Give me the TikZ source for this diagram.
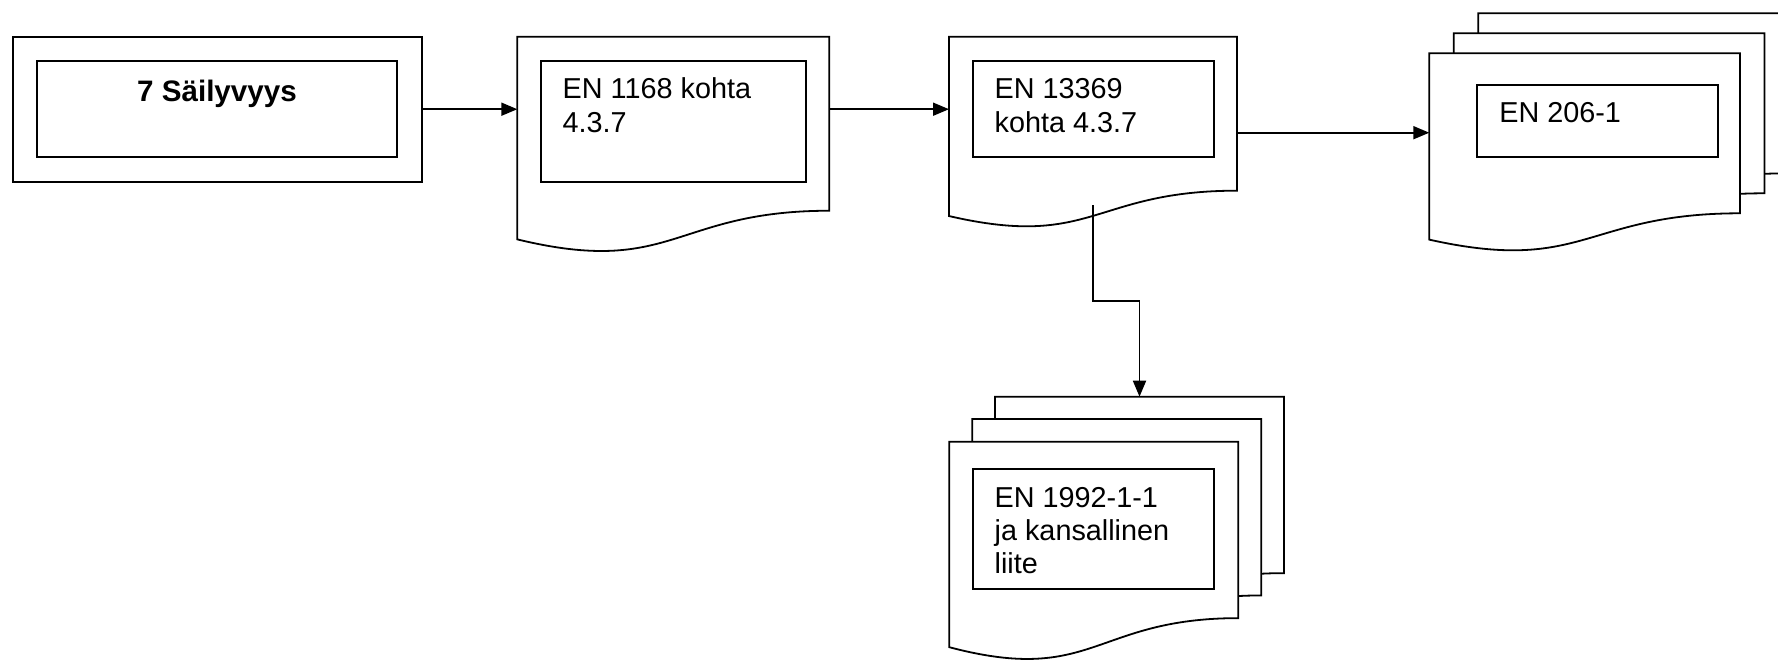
\documentclass[tikz,border=0pt]{standalone}
\usepackage{fontspec}
\setmainfont{Liberation Sans}
\usepackage{tikz}
\usetikzlibrary{positioning}
\usetikzlibrary{calc,arrows.meta}

% one sheet of the document shape, drawn on the frame of a node
\newcommand{\docpage}[1]{%
  \draw[fill=white] (#1.north west) -- (#1.north east)
    -- ($(#1.north east)!0.802!(#1.south east)$)
    .. controls ($(#1.north)!0.802!(#1.south)$) and ($(#1.north)!1.108!(#1.south)$)
    .. ($(#1.north west)!0.934!(#1.south west)$) -- cycle;}
\newcommand{\doctext}[3]{\parbox[c][#2][t]{#1}{\raggedright\rule{0pt}{18.9pt}#3}}

\begin{document}
\begin{tikzpicture}[x=0.5pt, y=-0.5pt, line width=0.9pt,
every node/.style = {inner sep=0pt, outer sep=0pt, anchor=north west},
  page/.style 2 args = {minimum width=#1, minimum height=#2},
  textbox/.style = {draw, fill=white, inner xsep=11pt, font=\fontsize{14.4}{16.7}\selectfont},
  arr/.style = {-{Triangle[length=8pt, width=6.5pt]}}
]
\useasboundingbox (0,0) rectangle (1778,659);

% title
\node[draw, page={204.5pt}{72.5pt}] (frame) at (12.7,36.7) {};
\node[textbox, inner xsep=0pt, font=\fontsize{14.8}{16.7}\selectfont\bfseries] (title) at (36.7,61)
    {\parbox[c][47.85pt][t]{180.3pt}{\centering\rule{0pt}{20.3pt}7 Säilyvyys}};

% EN 1168
\node[page={156pt}{108.5pt}] (d2) at (517.3,36.7) {};
\docpage{d2}
\node[textbox] (t2) at (540.7,61) {\doctext{110.5pt}{60.35pt}{EN 1168 kohta\\4.3.7}};

% EN 13369
\node[page={144pt}{96pt}] (d3) at (949,36.7) {};
\docpage{d3}
\node[textbox] (t3) at (972.7,61) {\doctext{98.65pt}{47.85pt}{EN 13369\\kohta 4.3.7}};

% EN 206-1, three sheets
\node[page={155.35pt}{99.75pt}] (d4c) at (1478.3,13.3) {};
\node[page={155.35pt}{99.75pt}] (d4b) at (1453.8,33.3) {};
\node[page={155.35pt}{99.75pt}] (d4a) at (1429.3,53.3) {};
\docpage{d4c}
\docpage{d4b}
\docpage{d4a}
\node[textbox] (t4) at (1477.3,85) {\doctext{98.2pt}{35.85pt}{EN 206-1}};

% EN 1992-1-1, three sheets
\node[page={144.5pt}{110pt}] (d5c) at (995,396.7) {};
\node[page={144.5pt}{110pt}] (d5b) at (972.3,419) {};
\node[page={144.5pt}{110pt}] (d5a) at (949.3,441.7) {};
\docpage{d5c}
\docpage{d5b}
\docpage{d5a}
\node[textbox] (t5) at (972.7,469.3) {\doctext{98.65pt}{60pt}{EN 1992-1-1\\ja kansallinen\\liite}};

% connectors
\draw[arr] (frame.east) -- (frame.east -| d2.west);
\draw[arr] (frame.east -| d2.east) -- (frame.east -| d3.west);
\draw[arr] (d3.east) -- (d3.east -| d4a.west);
\coordinate (tap) at ($(d3.south)+(0,-23.7)$);
\draw[arr] (tap) -- ++(0,96) -| (d5c.north);
\end{tikzpicture}
\end{document}
